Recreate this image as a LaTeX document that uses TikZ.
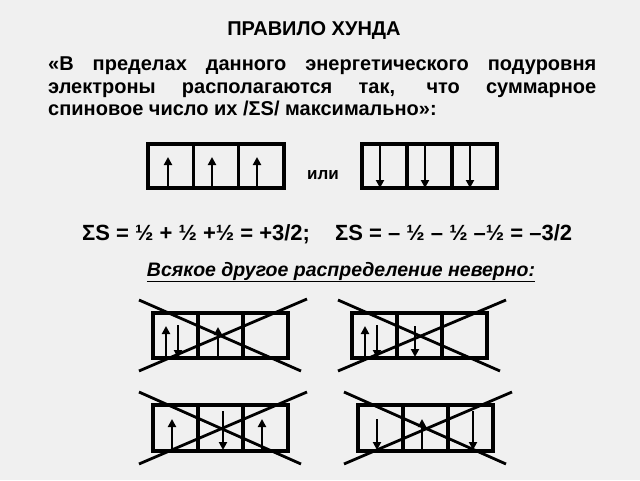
\documentclass[tikz,border=0pt]{standalone}
\usepackage{fontspec}
\setmainfont{Liberation Sans}
\usetikzlibrary{arrows.meta}
\begin{document}
\begin{tikzpicture}[x=1pt,y=-1pt,
  cell/.style={draw, line width=3.2pt},
  spin/.style={line width=2.8pt,-{Triangle[length=8pt,width=8pt]}},
  crs/.style={line width=2.8pt},
  txt/.style={font=\fontsize{20}{22.5}\selectfont\bfseries}]
\useasboundingbox[fill=gray!12] (0,0) rectangle (640,480);
\node[txt] (title) at (314,31) {ПРАВИЛО ХУНДА};
\node[txt, anchor=north west, text width=548, align=justify, inner sep=0] (par) at (48,57)
 {«В пределах данного энергетического подуровня электроны располагаются так, что суммарное спиновое число их /ΣS/ максимально»:};
\newcommand{\cells}[4]{%
 \draw[cell] (#1,#2) rectangle (#3,#4);
 \draw[cell] ({#1+(#3-#1)/3},#2) -- ({#1+(#3-#1)/3},#4);
 \draw[cell] ({#1+2*(#3-#1)/3},#2) -- ({#1+2*(#3-#1)/3},#4);}
\cells{148}{144}{284}{188}
\cells{362}{144}{497}{188}
\draw[spin] (168,188) -- (168,157);
\draw[spin] (212,188) -- (212,157);
\draw[spin] (257,188) -- (257,157);
\draw[spin] (380,144) -- (380,188);
\draw[spin] (425,144) -- (425,188);
\draw[spin] (470,144) -- (470,188);
\node[txt,font=\fontsize{17}{18}\selectfont\bfseries] (ili) at (323,175) {или};
\node[txt,anchor=base west,inner sep=0,font=\fontsize{22}{24}\selectfont\bfseries] (f1) at (82,240) {ΣS = ½ + ½ +½ = +3/2;};
\node[txt,anchor=base west,inner sep=0,font=\fontsize{22}{24}\selectfont\bfseries] (f2) at (335,240) {ΣS = – ½ – ½ –½ = –3/2};
\node[txt,font=\fontsize{19.5}{22}\selectfont\bfseries\itshape] (wrong) at (341,272) {\underline{Всякое другое распределение неверно:}};
\cells{153}{313}{288}{358}
\draw[spin] (166,358) -- (166,326);
\draw[spin] (178,325) -- (178,358);
\draw[spin] (218,358) -- (218,327);
\draw[crs] (139,300) -- (301,371); \draw[crs] (139,371) -- (307,299);
\cells{352}{313}{487}{358}
\draw[spin] (365,358) -- (365,326);
\draw[spin] (377,325) -- (377,358);
\draw[spin] (415,326) -- (415,357);
\draw[crs] (338,300) -- (500,371); \draw[crs] (338,371) -- (506,300);
\cells{153}{405}{288}{451}
\draw[spin] (172,451) -- (172,419);
\draw[spin] (223,411) -- (223,450);
\draw[spin] (262,451) -- (262,419);
\draw[crs] (139,392) -- (301,464); \draw[crs] (139,464) -- (307,392);
\cells{358}{405}{493}{451}
\draw[spin] (377,419) -- (377,450);
\draw[spin] (422,451) -- (422,419);
\draw[spin] (473,411) -- (473,450);
\draw[crs] (344,392) -- (506,464); \draw[crs] (344,464) -- (512,392);
\end{tikzpicture}
\end{document}
